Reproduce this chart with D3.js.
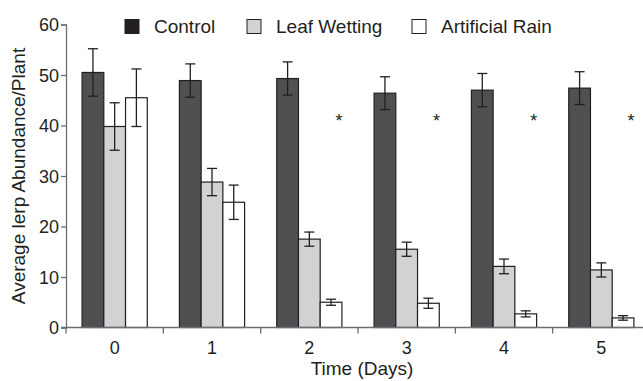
<!DOCTYPE html>
<html>
<head>
<meta charset="utf-8">
<script src="https://d3js.org/d3.v7.min.js"></script>
<style>
  body { margin: 0; background: #fff; }
  text { font-family: "Liberation Sans", Arial, sans-serif; fill: #231f20; }
</style>
</head>
<body>
<div id="chart"></div>
<script>
// Data
const days = ["0", "1", "2", "3", "4", "5"];
const series = ["Control", "Leaf Wetting", "Artificial Rain"];
const controlMean = [50.5, 48.9, 49.3, 46.4, 47.0, 47.4];
const controlErr  = [4.7, 3.3, 3.3, 3.25, 3.3, 3.25];
const leafMean    = [39.8, 28.8, 17.5, 15.5, 12.1, 11.4];
const leafErr     = [4.7, 2.7, 1.4, 1.4, 1.45, 1.4];
const rainMean    = [45.5, 24.8, 5.0, 4.8, 2.7, 1.9];
const rainErr     = [5.7, 3.4, 0.6, 1.0, 0.6, 0.45];
const significant = [false, false, true, true, true, true];
const yTicks = [0, 10, 20, 30, 40, 50, 60];

const colors = { "Control": "#505052", "Leaf Wetting": "#d1d2d4", "Artificial Rain": "#ffffff" };
const legendColors = { "Control": "#231f20", "Leaf Wetting": "#d1d2d4", "Artificial Rain": "#ffffff" };

const W = 643, H = 381;
const svg = d3.select("#chart").append("svg")
    .attr("width", W)
    .attr("height", H);

// Scales
const x = d3.scaleBand()
    .domain(days)
    .range([66, 650])
    .padding(0);

const x1 = d3.scaleBand()
    .domain(series)
    .range([0, x.bandwidth()])
    .paddingInner(0)
    .paddingOuter(0.74);

const y = d3.scaleLinear()
    .domain([0, 60])
    .range([327.5, 24.5]);

// Build rows
const rows = [];
days.forEach((d, i) => {
    rows.push({ day: d, s: "Control", v: controlMean[i], e: controlErr[i] });
    rows.push({ day: d, s: "Leaf Wetting", v: leafMean[i], e: leafErr[i] });
    rows.push({ day: d, s: "Artificial Rain", v: rainMean[i], e: rainErr[i] });
});

// Bars
svg.append("g")
    .selectAll("rect")
    .data(rows)
    .join("rect")
    .attr("x", d => x(d.day) + x1(d.s))
    .attr("y", d => y(d.v))
    .attr("width", x1.bandwidth())
    .attr("height", d => y(0) - y(d.v))
    .attr("fill", d => colors[d.s])
    .attr("stroke", "#231f20")
    .attr("stroke-width", 1.2);

// Error bars
const eb = svg.append("g")
    .attr("stroke", "#231f20")
    .attr("stroke-width", 1.3)
    .selectAll("g")
    .data(rows)
    .join("g")
    .attr("transform", d => `translate(${x(d.day) + x1(d.s) + x1.bandwidth() / 2},0)`);

eb.append("line")
    .attr("y1", d => y(d.v + d.e))
    .attr("y2", d => y(d.v - d.e));
eb.append("line")
    .attr("x1", -5).attr("x2", 5)
    .attr("y1", d => y(d.v + d.e))
    .attr("y2", d => y(d.v + d.e));
eb.append("line")
    .attr("x1", -5).attr("x2", 5)
    .attr("y1", d => y(d.v - d.e))
    .attr("y2", d => y(d.v - d.e));

// Significance asterisks
svg.append("g")
    .selectAll("text")
    .data(days.filter((d, i) => significant[i]))
    .join("text")
    .attr("x", d => x(d) + x1("Artificial Rain") + x1.bandwidth() / 2 + 8)
    .attr("y", y(41.5) + 9)
    .attr("text-anchor", "middle")
    .style("font-size", "18px")
    .text("*");

// Y axis
const yAxis = svg.append("g")
    .attr("transform", "translate(66,0)")
    .call(d3.axisLeft(y).tickValues(yTicks).tickSize(5).tickPadding(2));
yAxis.selectAll("text").style("font-size", "18px").attr("dy", "0.36em");

// X axis
const xAxis = svg.append("g")
    .attr("transform", `translate(0,${y(0)})`)
    .call(d3.axisBottom(x).tickSize(0).tickPadding(14));
xAxis.select(".domain").remove();
xAxis.selectAll("text").style("font-size", "18px");
xAxis.append("line")
    .attr("x1", 61).attr("x2", W)
    .attr("stroke", "#6d6e71")
    .attr("stroke-width", 1.3);
xAxis.selectAll(".sep")
    .data(days)
    .join("line")
    .attr("class", "sep")
    .attr("x1", d => x(d)).attr("x2", d => x(d))
    .attr("y1", 0).attr("y2", 6)
    .attr("stroke", "#6d6e71")
    .attr("stroke-width", 1.3);

svg.selectAll(".domain, .tick line").attr("stroke", "#6d6e71").attr("stroke-width", 1.3);

// Axis titles
svg.append("text")
    .attr("x", 362)
    .attr("y", 375)
    .attr("text-anchor", "middle")
    .style("font-size", "19px")
    .text("Time (Days)");

svg.append("text")
    .attr("transform", "translate(25,176) rotate(-90)")
    .attr("text-anchor", "middle")
    .style("font-size", "19px")
    .text("Average lerp Abundance/Plant");

// Legend
const legendX = [125, 247, 412];
const legend = svg.append("g")
    .selectAll("g")
    .data(series)
    .join("g")
    .attr("transform", (d, i) => `translate(${legendX[i]},19.5)`);

legend.append("rect")
    .attr("width", 14)
    .attr("height", 14)
    .attr("fill", d => legendColors[d])
    .attr("stroke", "#231f20")
    .attr("stroke-width", 1);

legend.append("text")
    .attr("x", 29)
    .attr("y", 13.5)
    .style("font-size", "19px")
    .text(d => d);
</script>
</body>
</html>
